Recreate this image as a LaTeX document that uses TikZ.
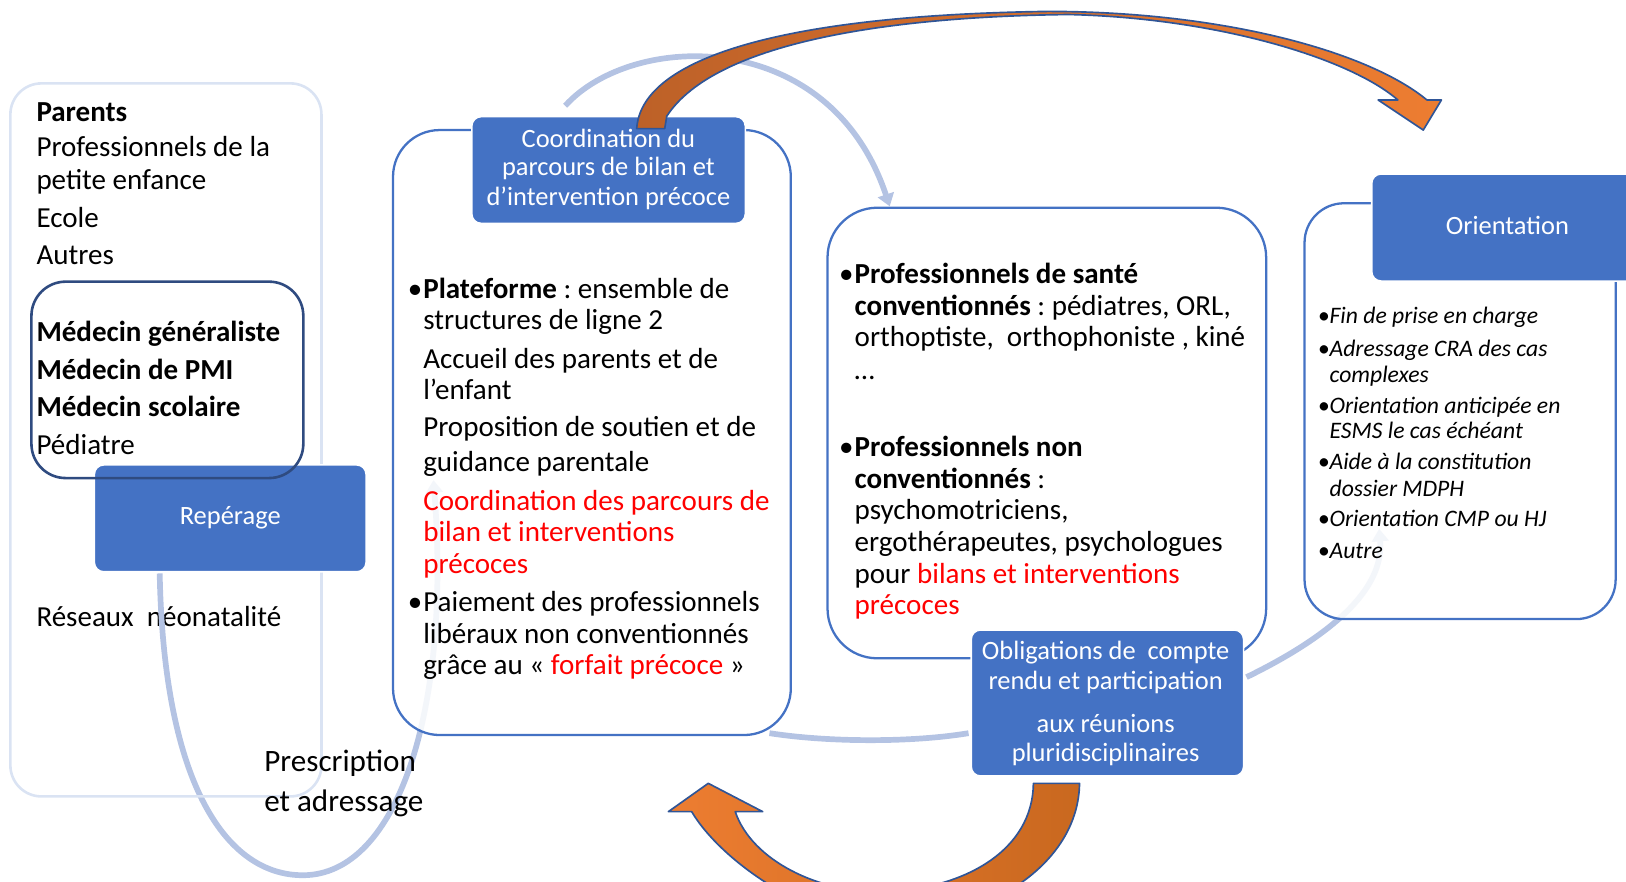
\documentclass[tikz,border=0pt]{standalone}
\usepackage{fontspec}
\setmainfont{Carlito}
\usetikzlibrary{arrows.meta}
\frenchspacing
\definecolor{boxblue}{HTML}{4472C4}
\definecolor{linkblue}{HTML}{B4C3E3}
\definecolor{paleframe}{HTML}{DAE3F3}
\definecolor{medframe}{HTML}{2F4B80}
\definecolor{arrowline}{HTML}{2F5597}
\definecolor{orangeA}{HTML}{ED7D31}
\definecolor{orangeB}{HTML}{BD6128}
\definecolor{orangeC}{HTML}{C9681F}
\definecolor{redtxt}{HTML}{FF0000}
\tikzset{
  txt/.style={anchor=base west, inner sep=0pt, font=\fontsize{28}{30}\selectfont},
  otxt/.style={anchor=base west, inner sep=0pt, font=\fontsize{22.8}{25}\selectfont\itshape},
  wtxt/.style={anchor=base, inner sep=0pt, text=white, font=\fontsize{25.5}{28}\selectfont},
  ptxt/.style={anchor=base west, inner sep=0pt, font=\fontsize{30}{32}\selectfont},
  bluebox/.style={rectangle, fill=boxblue, draw=white, line width=1.5pt, rounded corners=9pt, inner sep=0pt},
  frame/.style={rectangle, draw=boxblue, line width=2.2pt, fill=white, fill opacity=0.85, inner sep=0pt},
  link/.style={draw=linkblue, line width=5.5pt},
  linkhead/.style={-{Triangle[length=12pt,width=16pt]}},
  bigarrow/.style={draw=arrowline, line width=1.6pt, line join=round},
}
\begin{document}
\begin{tikzpicture}[x=1pt,y=-1pt]
\useasboundingbox (0,0) rectangle (1568,849.6);

% text lying under the loop
\node[txt] (t10) at (35,604.3) {Réseaux\ \ néonatalité};

% light connectors
\coordinate (ls1) at (545,102);
\coordinate (le1) at (858,199);
\draw[link,linkhead] (ls1) .. controls (610,30) and (800,25) .. (le1);
\coordinate (ls2) at (154,553);
\coordinate (lm2) at (292,844);
\coordinate (le2) at (418,463);
\draw[link,linkhead] (ls2) .. controls (158,760) and (220,844) .. (lm2) .. controls (385,844) and (435,680) .. (le2);
\coordinate (ls3) at (1202,653);
\coordinate (le3) at (1330,510);
\draw[link,linkhead] (ls3) .. controls (1280,615) and (1335,570) .. (le3);
\coordinate (ls4) at (742,707);
\coordinate (le4) at (934,707);
\draw[link] (ls4) .. controls (800,716) and (880,716) .. (le4);

% left column
\node[rectangle, draw=paleframe, line width=2.5pt, rounded corners=30pt, minimum width=300pt, minimum height=687.6pt, inner sep=0pt] (leftbox) at (160,424.2) {};
\node[bluebox, minimum width=262pt, minimum height=103pt] (repbox) at (222,499.85) {};
\node[rectangle, draw=medframe, line width=2.5pt, rounded corners=33pt, minimum width=262.2pt, minimum height=189.4pt, inner sep=0pt] (medbox) at (161.4,366.3) {};

% centre column
\node[frame, rounded corners=45pt, minimum width=383.6pt, minimum height=583.4pt] (centerbox) at (570.8,417.1) {};
\node[bluebox, minimum width=263.7pt, minimum height=102.9pt] (coordbox) at (586.85,163.95) {};

% professionals column
\node[frame, rounded corners=48pt, minimum width=423pt, minimum height=434.5pt] (profbox) at (1009.5,417.55) {};
\node[bluebox, minimum width=262.6pt, minimum height=140.8pt] (obligbox) at (1067.9,677.9) {};

% orientation column
\node[frame, rounded corners=38pt, minimum width=300pt, minimum height=401pt] (orientframe) at (1408,396.5) {};
\node[bluebox, minimum width=263.2pt, minimum height=103.2pt] (orientbox) at (1454.4,219.4) {};

% big orange arrows
\coordinate (otip1) at (1372.5,125.4);
\shadedraw[bigarrow, left color=orangeB, right color=orangeA]
  (614,124) .. controls (618,60) and (740,15) .. (1010,11)
  .. controls (1180,11) and (1320,50) .. (1376,96.4)
  -- (1390,96.4) -- (otip1) -- (1329,96.4) -- (1348,96.4)
  .. controls (1300,55) and (1170,17) .. (1030,14)
  .. controls (860,16) and (690,40) .. (643,112) -- (641,124) -- cycle;
\coordinate (otip2) at (683,755.4);
\shadedraw[bigarrow, left color=orangeA, right color=orangeC]
  (1041,755.4) .. controls (1040,830) and (960,885) .. (860,893)
  .. controls (780,890) and (695,830) .. (667,782.7)
  -- (644.5,782.7) -- (otip2) -- (735.5,782.7) -- (709,782.7)
  .. controls (725,830) and (790,861) .. (850,860)
  .. controls (930,858) and (996,820) .. (996.5,755.4) -- cycle;

% left column texts
\node[txt] (t1) at (35,117.3) {\textbf{Parents}};
\node[txt] (t2) at (35,151) {Professionnels de la};
\node[txt] (t3) at (35,183) {petite enfance};
\node[txt] (t4) at (35,219.6) {Ecole};
\node[txt] (t5) at (35,255.5) {Autres};
\node[txt] (t6) at (35,329.5) {\textbf{Médecin généraliste}};
\node[txt] (t7) at (35,365.5) {\textbf{Médecin de PMI}};
\node[txt] (t8) at (35,401.8) {\textbf{Médecin scolaire}};
\node[txt] (t9) at (35,437.8) {Pédiatre};
\node[wtxt] (w1) at (222,505.8) {Repérage};
\node[ptxt] (p1) at (254.7,744.1) {Prescription};
\node[ptxt] (p2) at (254.7,782.7) {et adressage};

% centre texts
\node[wtxt] (w2) at (586.7,142.4) {Coordination du};
\node[wtxt] (w3) at (586.7,169.7) {parcours de bilan et};
\node[wtxt] (w4) at (586.7,197.7) {d’intervention précoce};
\node[txt] (c1) at (408,287.7) {\llap{•\hspace{1pt}}\textbf{Plateforme} : ensemble de};
\node[txt] (c2) at (408,318.2) {structures de ligne 2};
\node[txt] (c3) at (408,355.2) {Accueil des parents et de};
\node[txt] (c4) at (408,385.7) {l’enfant};
\node[txt] (c5) at (408,421.1) {Proposition de soutien et de};
\node[txt] (c6) at (408,454.8) {guidance parentale};
\node[txt, text=redtxt] (c7) at (408,491.8) {Coordination des parcours de};
\node[txt, text=redtxt] (c8) at (408,522.3) {bilan et interventions};
\node[txt, text=redtxt] (c9) at (408,552.9) {précoces};
\node[txt] (c10) at (408,589.8) {\llap{•\hspace{1pt}}Paiement des professionnels};
\node[txt] (c11) at (408,620.4) {libéraux non conventionnés};
\node[txt] (c12) at (408,650.9) {grâce au « \textcolor{redtxt}{forfait précoce} »};

% professionals texts
\node[txt] (r1) at (824,273.2) {\llap{•\hspace{1pt}}\textbf{Professionnels de santé}};
\node[txt] (r2) at (824,303.8) {\textbf{conventionnés} : pédiatres, ORL,};
\node[txt] (r3) at (824,334.3) {orthoptiste,\ \ orthophoniste , kiné};
\node[txt] (r4) at (824,365.5) {…};
\node[txt] (r5) at (824,440.4) {\llap{•\hspace{1pt}}\textbf{Professionnels non}};
\node[txt] (r6) at (824,470.9) {\textbf{conventionnés} :};
\node[txt] (r7) at (824,501.4) {psychomotriciens,};
\node[txt] (r8) at (824,532) {ergothérapeutes, psychologues};
\node[txt] (r9) at (824,562.5) {pour \textcolor{redtxt}{bilans et interventions}};
\node[txt, text=redtxt] (r10) at (824,593) {précoces};
\node[wtxt] (w5) at (1066.2,636.4) {Obligations de\ \ compte};
\node[wtxt] (w6) at (1066.2,664.7) {rendu et participation};
\node[wtxt] (w7) at (1066.2,706.5) {aux réunions};
\node[wtxt] (w8) at (1066.2,734.5) {pluridisciplinaires};

% orientation texts
\node[wtxt] (w9) at (1453.6,226.6) {Orientation};
\node[otxt] (o1) at (1282,311.8) {\llap{•}Fin de prise en charge};
\node[otxt] (o2) at (1282,343.3) {\llap{•}Adressage CRA des cas};
\node[otxt] (o3) at (1282,369) {complexes};
\node[otxt] (o4) at (1282,398.6) {\llap{•}Orientation anticipée en};
\node[otxt] (o5) at (1282,422.7) {ESMS le cas échéant};
\node[otxt] (o6) at (1282,453.2) {\llap{•}Aide à la constitution};
\node[otxt] (o7) at (1282,479) {dossier MDPH};
\node[otxt] (o8) at (1282,507.9) {\llap{•}Orientation CMP ou HJ};
\node[otxt] (o9) at (1282,538.4) {\llap{•}Autre};
\end{tikzpicture}
\end{document}
